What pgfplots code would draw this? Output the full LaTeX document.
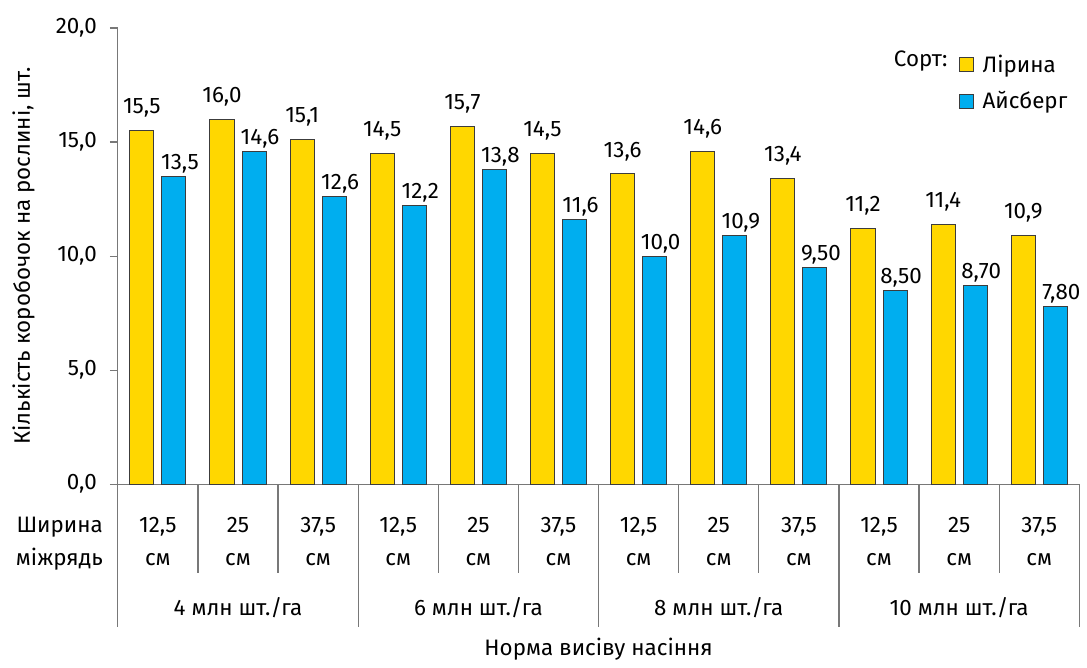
\documentclass[border=0pt]{standalone}
\usepackage{fontspec}
\setmainfont{Fira Sans}
\usepackage{pgfplots}
\pgfplotsset{compat=1.18}
\usepackage{pgfplotstable}
\definecolor{yel}{RGB}{255,215,0}
\definecolor{blu}{RGB}{0,174,239}
\definecolor{axc}{RGB}{120,120,120}
\definecolor{edg}{RGB}{60,60,60}
\newcommand\myfont{\fontsize{11.2}{13}\selectfont}

\pgfplotstableread{
x y lab
-0.2 15.5 15,5
0.8 16.0 16,0
1.8 15.1 15,1
2.8 14.5 14,5
3.8 15.7 15,7
4.8 14.5 14,5
5.8 13.6 13,6
6.8 14.6 14,6
7.8 13.4 13,4
8.8 11.2 11,2
9.8 11.4 11,4
10.8 10.9 10,9
}\lirina

\pgfplotstableread{
x y lab
0.2 13.5 13,5
1.2 14.6 14,6
2.2 12.6 12,6
3.2 12.2 12,2
4.2 13.8 13,8
5.2 11.6 11,6
6.2 10.0 10,0
7.2 10.9 10,9
8.2 9.50 9,50
9.2 8.50 8,50
10.2 8.70 8,70
11.2 7.80 7,80
}\aisberg

\begin{document}
\begin{tikzpicture}[font=\myfont]
\begin{axis}[
  name=ax,
  scale only axis, width=481.5pt, height=228.5pt,
  xmin=-0.5, xmax=11.5, ymin=0, ymax=20,
  axis lines=left, axis line style={-, axc, line width=0.6pt},
  xtick=\empty,
  ytick={0,5,10,15,20},
  yticklabel={\pgfmathprintnumber[fixed,fixed zerofill,precision=1,use comma,assume math mode=true]{\tick}},
  yticklabel style={xshift=-3pt},
  tick align=outside, major tick length=4pt,
  tick style={axc, line width=0.6pt},
  tick label style={font=\myfont},
  label style={font=\myfont},
  clip=false,
  bar width=0.3,
  legend style={draw=none, fill=none, font=\myfont, at={(rel axis cs:0.874,0.951)}, anchor=north west, inner sep=0pt, row sep=4pt},
  legend cell align=left,
  legend image code/.code={\draw[#1] (0pt,-3.5pt) rectangle (7pt,3.5pt); \path (9.5pt,0pt);},
]
\addplot[ybar, bar shift=0pt, fill=yel, draw=edg, line width=0.5pt,
  nodes near coords, point meta=explicit symbolic,
  nodes near coords style={font=\myfont, anchor=base, yshift=8.5pt, text=black}]
  table[x=x, y=y, meta=lab]{\lirina};
\addplot[ybar, bar shift=0pt, fill=blu, draw=edg, line width=0.5pt,
  nodes near coords, point meta=explicit symbolic,
  nodes near coords style={font=\myfont, anchor=base, yshift=3.5pt, xshift=3pt, text=black}]
  table[x=x, y=y, meta=lab]{\aisberg};
\legend{Лірина, Айсберг}

\node[anchor=base east] at ([xshift=4pt, yshift=2.5pt]axis cs:9.843,18.07) {Сорт:};

% separators
\pgfplotsinvokeforeach{-0.5,2.5,5.5,8.5,11.5}{\draw[axc, line width=0.6pt] (axis cs:#1,0) -- ++(0pt,-71.5pt);}
\pgfplotsinvokeforeach{0.5,1.5,3.5,4.5,6.5,7.5,9.5,10.5}{\draw[axc, line width=0.6pt] (axis cs:#1,0) -- ++(0pt,-44.5pt);}

% category labels
\pgfplotsinvokeforeach{0,3,6,9}{\node[anchor=base] at ([yshift=-24.2pt]axis cs:#1,0) {12,5};}
\pgfplotsinvokeforeach{1,4,7,10}{\node[anchor=base] at ([yshift=-24.2pt]axis cs:#1,0) {25};}
\pgfplotsinvokeforeach{2,5,8,11}{\node[anchor=base] at ([yshift=-24.2pt]axis cs:#1,0) {37,5};}
\pgfplotsinvokeforeach{0,1,2,3,4,5,6,7,8,9,10,11}{\node[anchor=base] at ([yshift=-40.8pt]axis cs:#1,0) {см};}

\node[anchor=base east] at ([xshift=-4pt, yshift=-24.2pt]axis cs:-0.5,0) {Ширина};
\node[anchor=base east] at ([xshift=-4pt, yshift=-40.8pt]axis cs:-0.5,0) {міжрядь};

% group labels
\node[anchor=base] at ([yshift=-65.8pt]axis cs:1,0) {4 млн шт./га};
\node[anchor=base] at ([yshift=-65.8pt]axis cs:4,0) {6 млн шт./га};
\node[anchor=base] at ([yshift=-65.8pt]axis cs:7,0) {8 млн шт./га};
\node[anchor=base] at ([yshift=-65.8pt]axis cs:10,0) {10 млн шт./га};

% axis titles
\node[anchor=base] at ([yshift=-86pt]axis cs:5.5,0) {Норма висіву насіння};
\node[anchor=base, rotate=90] at ([xshift=-44pt]axis cs:-0.5,10) {Кількість коробочок на рослині, шт.};
\end{axis}
\path[use as bounding box] ([shift={(-59pt,-88.5pt)}]ax.south west) rectangle ([shift={(484.5pt,242.5pt)}]ax.south west);
\end{tikzpicture}
\end{document}
